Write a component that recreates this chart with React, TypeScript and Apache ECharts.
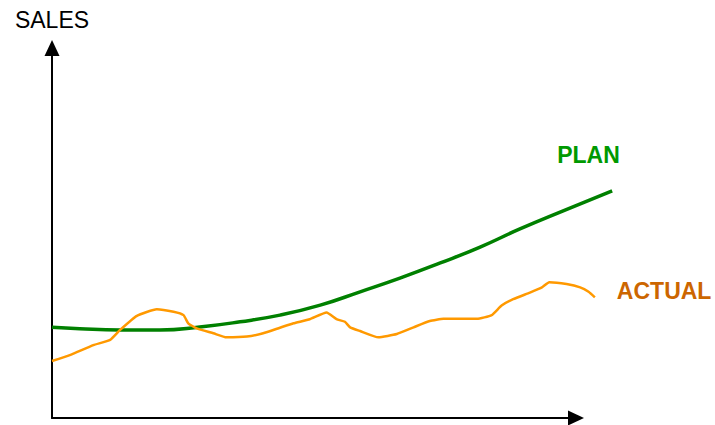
import React, { useEffect, useRef } from "react";
import * as echarts from "echarts";

// time (0-100 along the drawn x axis) and sales (0-100 along the y axis)
const planTime = [0, 5.3, 13.0, 20.6, 28.2, 35.9, 43.5, 51.2, 58.8, 66.4, 74.1, 81.7, 89.3, 97.9, 106.9];
const planSales = [24.5, 24.1, 23.8, 23.8, 24.6, 26.0, 27.8, 30.5, 34.1, 37.8, 41.9, 46.2, 51.1, 56.2, 61.4];

const actualTime = [0, 3.4, 7.9, 11.1, 13.0, 16.2, 20.0, 23.2, 25.1, 26.0, 27.6, 30.8, 33.3, 37.2, 40.3, 43.5, 46.1, 49.2, 52.4, 54.3, 55.9, 56.9, 58.8, 62.3, 65.8, 69.0, 72.1, 74.7, 81.1, 83.9, 85.8, 88.0, 91.2, 93.5, 94.9, 98.2, 100.8, 102.4, 103.6];
const actualSales = [15.4, 17.0, 19.7, 21.1, 23.8, 27.6, 29.4, 28.7, 27.8, 25.6, 24.2, 22.9, 21.8, 22.0, 22.9, 24.4, 25.6, 26.7, 28.5, 26.7, 26.0, 24.5, 23.5, 21.8, 22.7, 24.5, 26.2, 26.8, 26.8, 27.8, 30.4, 32.1, 33.9, 35.3, 36.7, 36.2, 35.3, 34.1, 32.6];

const yAxisName = "SALES";
const planName = "PLAN";
const actualName = "ACTUAL";

const FONT = "Liberation Sans, Arial, sans-serif";

export default function App() {
  const ref = useRef<HTMLDivElement>(null);
  useEffect(() => {
    if (!ref.current) return;
    const chart = echarts.init(ref.current, null, { renderer: "svg" });
    const axisVisible = {
      type: "value" as const,
      min: 0,
      max: 100,
      splitLine: { show: false },
      axisTick: { show: false },
      axisLabel: { show: false },
      axisLine: {
        show: true,
        symbol: ["none", "triangle"],
        symbolSize: [15, 16],
        lineStyle: { color: "#000", width: 2 },
      },
    };
    const axisHidden = {
      type: "value" as const,
      min: 0,
      splitLine: { show: false },
      axisTick: { show: false },
      axisLabel: { show: false },
      axisLine: { show: false },
    };
    // grid 1 uses the same scale as grid 0 but extends further right (x up to 110)
    const pxPerUnit = (715 - 52 - 139) / 100;
    chart.setOption({
      animation: false,
      backgroundColor: "#fff",
      textStyle: { fontFamily: FONT },
      grid: [
        { left: 52, right: 139, top: 48, bottom: 7 },
        { left: 52, right: 715 - 52 - 110 * pxPerUnit, top: 48, bottom: 7 },
      ],
      xAxis: [
        { ...axisVisible, gridIndex: 0 },
        { ...axisHidden, gridIndex: 1, max: 110 },
      ],
      yAxis: [
        {
          ...axisVisible,
          gridIndex: 0,
          name: yAxisName,
          nameLocation: "end",
          nameGap: 17,
          nameTextStyle: { color: "#000", fontSize: 23, fontFamily: FONT },
        },
        { ...axisHidden, gridIndex: 1, max: 100 },
      ],
      series: [
        {
          name: planName,
          type: "line",
          xAxisIndex: 1,
          yAxisIndex: 1,
          data: planTime.map((t, i) => [t, planSales[i]]),
          smooth: true,
          showSymbol: false,
          lineStyle: { color: "#008000", width: 3.5 },
        },
        {
          name: actualName,
          type: "line",
          xAxisIndex: 1,
          yAxisIndex: 1,
          data: actualTime.map((t, i) => [t, actualSales[i]]),
          smooth: 0.15,
          showSymbol: false,
          lineStyle: { color: "#FF9900", width: 2.5 },
        },
      ],
    });
    const pEnd = chart.convertToPixel({ gridIndex: 1 }, [
      planTime[planTime.length - 1],
      planSales[planSales.length - 1],
    ]) as number[];
    const aEnd = chart.convertToPixel({ gridIndex: 1 }, [
      actualTime[actualTime.length - 1],
      actualSales[actualSales.length - 1],
    ]) as number[];
    chart.setOption({
      graphic: [
        {
          type: "text",
          x: pEnd[0] - 55,
          y: pEnd[1] - 36,
          style: {
            text: planName,
            fill: "#009900",
            font: `bold 23px ${FONT}`,
            verticalAlign: "middle",
            align: "left",
          },
        },
        {
          type: "text",
          x: aEnd[0] + 22,
          y: aEnd[1] - 6,
          style: {
            text: actualName,
            fill: "#CC6600",
            font: `bold 23px ${FONT}`,
            verticalAlign: "middle",
            align: "left",
          },
        },
      ],
    });
    return () => chart.dispose();
  }, []);
  return (
    <div
      ref={ref}
      style={{ position: "absolute", left: 0, top: 0, width: 715, height: 425 }}
    />
  );
}
